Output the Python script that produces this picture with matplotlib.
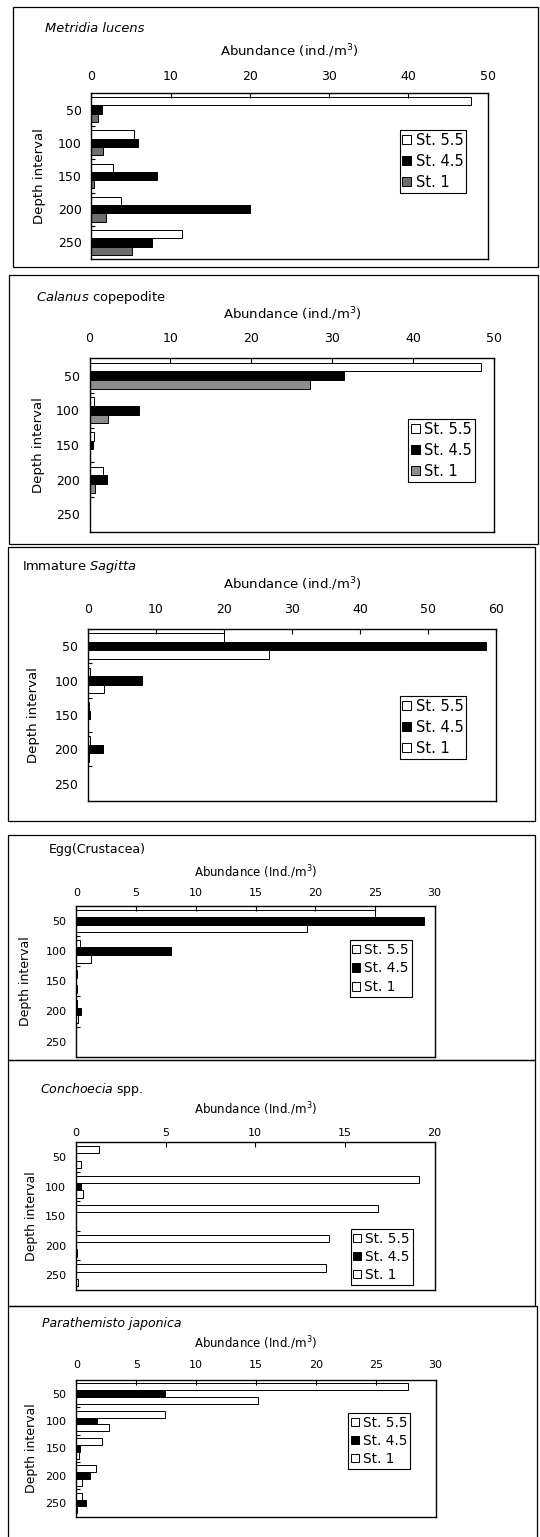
"""Vertical distribution of zooplankton abundance at three stations."""

import matplotlib

matplotlib.use("Agg")

import matplotlib.pyplot as plt
import numpy as np
from matplotlib.patches import Rectangle


FIG_W, FIG_H = 540, 1537

depth_labels = ["50", "100", "150", "200", "250"]
station_labels = ["St. 5.5", "St. 4.5", "St. 1"]

# abundance (ind./m3) per depth interval
metridia_st55 = [47.9, 5.4, 2.7, 3.8, 11.4]
metridia_st45 = [1.4, 5.9, 8.3, 20.0, 7.7]
metridia_st1 = [0.8, 1.5, 0.4, 1.9, 5.1]

calanus_st55 = [48.4, 0.5, 0.6, 1.7, 0.1]
calanus_st45 = [31.4, 6.1, 0.4, 2.2, 0.0]
calanus_st1 = [27.2, 2.3, 0.1, 0.7, 0.0]

sagitta_st55 = [20.0, 0.3, 0.1, 0.3, 0.0]
sagitta_st45 = [58.5, 7.9, 0.3, 2.2, 0.0]
sagitta_st1 = [26.6, 2.4, 0.0, 0.1, 0.0]

egg_st55 = [25.0, 0.3, 0.05, 0.05, 0.0]
egg_st45 = [29.1, 7.9, 0.0, 0.35, 0.0]
egg_st1 = [19.3, 1.2, 0.05, 0.1, 0.0]

conchoecia_st55 = [1.3, 19.15, 16.85, 14.1, 13.95]
conchoecia_st45 = [0.0, 0.3, 0.0, 0.0, 0.0]
conchoecia_st1 = [0.3, 0.4, 0.0, 0.05, 0.1]

parathemisto_st55 = [27.7, 7.4, 2.1, 1.6, 0.5]
parathemisto_st45 = [7.4, 1.7, 0.3, 1.15, 0.8]
parathemisto_st1 = [15.2, 2.7, 0.2, 0.5, 0.05]


# layout in image pixels (top-down), fonts in points
PANELS = [
    dict(series=(metridia_st55, metridia_st45, metridia_st1),
         title="Metridia lucens", title_style="italic", title_xy=(45, 28), title_size=9.4,
         border=(12.7, 6.7, 538, 266.7), axes=(91.3, 487.5, 93, 259),
         xlabel="Abundance (ind./m$^3$)", xlabel_y=51.7, tick_y=75, ylabel_x=39.6,
         legend_xy=(399.5, 130), xmax=50, xstep=10, st1_color="#6e6e6e",
         label_size=9.5, ylabel_size=9.5, tick_size=9, legend_size=10.5, legend_gap=0.4),
    dict(series=(calanus_st55, calanus_st45, calanus_st1),
         title=r"$\mathit{Calanus}$ copepodite", title_style="normal", title_xy=(36, 298), title_size=9.4,
         border=(8.6, 275, 538, 544), axes=(89.5, 494, 358.3, 531.7),
         xlabel="Abundance (ind./m$^3$)", xlabel_y=314.3, tick_y=337.7, ylabel_x=38.6,
         legend_xy=(408, 419), xmax=50, xstep=10, st1_color="#8c8c8c",
         label_size=9.5, ylabel_size=9.5, tick_size=9, legend_size=10.5, legend_gap=0.4),
    dict(series=(sagitta_st55, sagitta_st45, sagitta_st1),
         title=r"Immature $\mathit{Sagitta}$", title_style="normal", title_xy=(22, 566.7), title_size=9.4,
         border=(7.6, 547, 535, 821), axes=(88, 496, 629, 800.7),
         xlabel="Abundance (ind./m$^3$)", xlabel_y=584.3, tick_y=608.3, ylabel_x=33.7,
         legend_xy=(399.5, 696), xmax=60, xstep=10, st1_color="white",
         label_size=9.5, ylabel_size=9.5, tick_size=9, legend_size=10.5, legend_gap=0.4),
    dict(series=(egg_st55, egg_st45, egg_st1),
         title="Egg(Crustacea)", title_style="normal", title_xy=(49, 849), title_size=9,
         border=(7.6, 835, 535, 1060), axes=(76.4, 434.6, 906, 1056.7),
         xlabel="Abundance (Ind./m$^3$)", xlabel_y=871.7, tick_y=891, ylabel_x=25.8,
         legend_xy=(349.5, 940), xmax=30, xstep=5, st1_color="white",
         label_size=8.5, ylabel_size=9, tick_size=8, legend_size=9.8, legend_gap=0.35),
    dict(series=(conchoecia_st55, conchoecia_st45, conchoecia_st1),
         title=r"$\mathit{Conchoecia}$ spp.", title_style="normal", title_xy=(40, 1090), title_size=9,
         border=(7.6, 1060, 535, 1306), axes=(76, 434.6, 1142.3, 1290),
         xlabel="Abundance (Ind./m$^3$)", xlabel_y=1109, tick_y=1131.7, ylabel_x=31,
         legend_xy=(350.5, 1229), xmax=20, xstep=5, st1_color="white",
         label_size=8.5, ylabel_size=9, tick_size=8, legend_size=9.8, legend_gap=0.3),
    dict(series=(parathemisto_st55, parathemisto_st45, parathemisto_st1),
         title="Parathemisto japonica", title_style="italic", title_xy=(42, 1324), title_size=9,
         border=(7.6, 1306, 537, 1550), axes=(76.4, 435.6, 1380, 1516.7),
         xlabel="Abundance (Ind./m$^3$)", xlabel_y=1343.3, tick_y=1363.3, ylabel_x=31.7,
         legend_xy=(348, 1413), xmax=30, xstep=5, st1_color="white",
         label_size=8.5, ylabel_size=9, tick_size=8, legend_size=9.8, legend_gap=0.3),
]

BAR_H = 0.25


def _fx(x):
    return x / FIG_W


def _fy(y):
    return 1 - y / FIG_H


def _draw_panel(fig, p):
    x0, y0, x1, y1 = p["border"]
    fig.add_artist(Rectangle((_fx(x0), _fy(y1)), _fx(x1) - _fx(x0), _fy(y0) - _fy(y1),
                             transform=fig.transFigure, fill=False, lw=0.9, ec="black"))

    left, right, top, bottom = p["axes"]
    ax = fig.add_axes([_fx(left), _fy(bottom), _fx(right) - _fx(left), _fy(top) - _fy(bottom)])

    pos = np.arange(len(depth_labels))
    colors = ["white", "black", p["st1_color"]]
    for i, (vals, lab, col) in enumerate(zip(p["series"], station_labels, colors)):
        ax.barh(pos + (i - 1) * BAR_H, vals, height=BAR_H, color=col,
                edgecolor="black", linewidth=0.7, label=lab)

    ax.set_xlim(0, p["xmax"])
    ax.set_ylim(len(depth_labels) - 0.5, -0.5)
    ax.set_xticks(np.arange(0, p["xmax"] + 1, p["xstep"]))
    ax.set_yticks(pos)
    ax.set_yticklabels(depth_labels)
    ax.set_yticks(np.arange(0.5, len(depth_labels) - 0.5, 1), minor=True)

    ax.xaxis.tick_top()
    tick_px = p["tick_size"] / 0.72
    pad_pt = ((top - p["tick_y"]) - 0.6 * tick_px) * 0.72
    ax.tick_params(axis="x", direction="in", length=3.5, width=0.8, top=True, bottom=False,
                   labelsize=p["tick_size"], pad=pad_pt)
    ax.tick_params(axis="y", which="major", length=0, labelsize=p["tick_size"], pad=7)
    ax.tick_params(axis="y", which="minor", direction="in", length=3, width=0.8)
    for s in ax.spines.values():
        s.set_linewidth(1.0)

    ax.xaxis.set_label_position("top")
    ax.set_xlabel(p["xlabel"], fontsize=p["label_size"], va="center")
    ax.xaxis.set_label_coords(0.5, (bottom - p["xlabel_y"]) / (bottom - top))
    ax.set_ylabel("Depth interval", fontsize=p["ylabel_size"], va="center")
    ax.yaxis.set_label_coords((p["ylabel_x"] - left) / (right - left), 0.5)

    tx, ty = p["title_xy"]
    fig.text(_fx(tx), _fy(ty), p["title"], fontsize=p["title_size"],
             style=p["title_style"], ha="left", va="center")

    lx, ly = p["legend_xy"]
    leg = ax.legend(loc="upper left", bbox_to_anchor=(_fx(lx), _fy(ly)),
                    bbox_transform=fig.transFigure, borderaxespad=0, fancybox=False,
                    edgecolor="black", framealpha=1, fontsize=p["legend_size"],
                    handlelength=0.6, handleheight=0.6, handletextpad=0.3,
                    borderpad=0.2, labelspacing=p["legend_gap"])
    leg.get_frame().set_linewidth(0.8)


def main():
    plt.rcParams["font.family"] = "DejaVu Sans"
    fig = plt.figure(figsize=(FIG_W / 100, FIG_H / 100), dpi=100)
    for p in PANELS:
        _draw_panel(fig, p)
    fig.savefig("out.png", dpi=100)
    plt.close(fig)


if __name__ == "__main__":
    main()
